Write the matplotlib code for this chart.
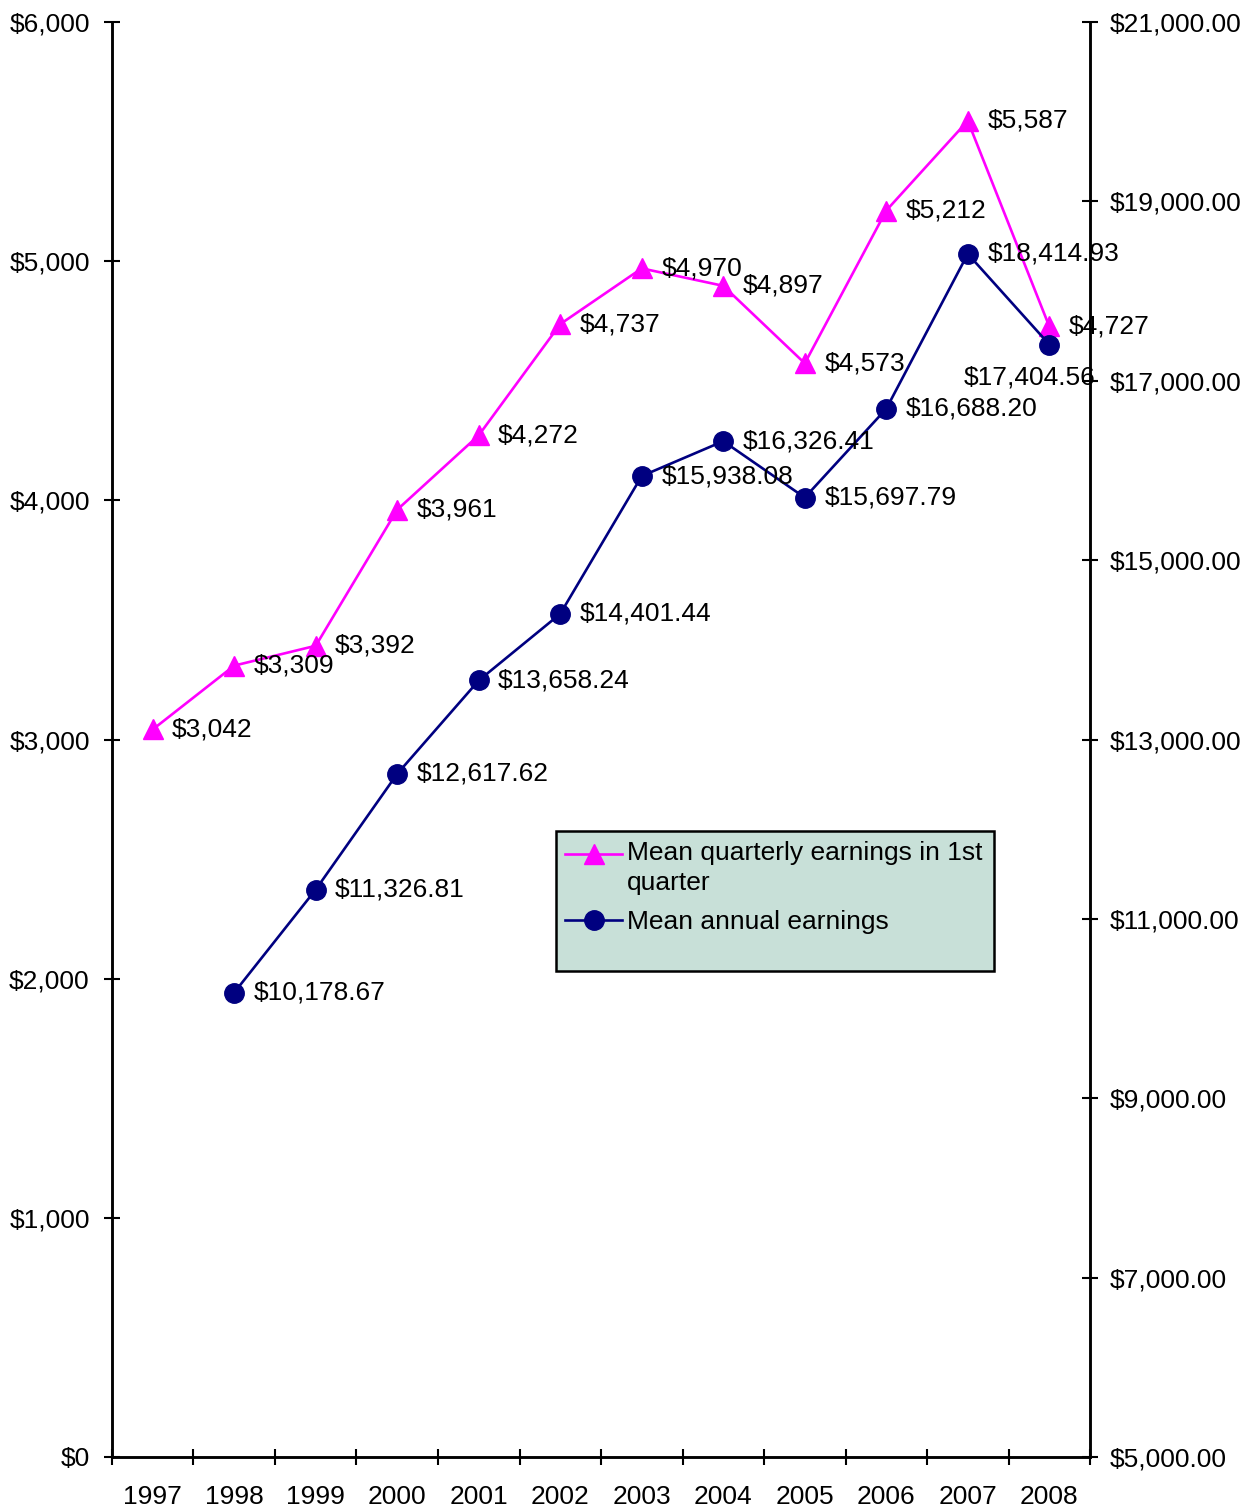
import numpy as np
import matplotlib
matplotlib.use("Agg")
import matplotlib.pyplot as plt
import matplotlib.patches as mpatches
from matplotlib.legend_handler import HandlerLine2D
from matplotlib.ticker import FuncFormatter, FixedLocator

plt.rcParams["font.family"] = ["Liberation Sans", "DejaVu Sans"]

# ---- data ----
years = ["1997", "1998", "1999", "2000", "2001", "2002",
         "2003", "2004", "2005", "2006", "2007", "2008"]
quarterly = [3042, 3309, 3392, 3961, 4272, 4737, 4970, 4897, 4573, 5212, 5587, 4727]
annual = [np.nan, 10178.67, 11326.81, 12617.62, 13658.24, 14401.44,
          15938.08, 16326.41, 15697.79, 16688.20, 18414.93, 17404.56]

label_q = "Mean quarterly earnings in 1st\nquarter"
label_a = "Mean annual earnings"

fontsize = 19
MAGENTA = "#FF00FF"
NAVY = "#000080"
LEGEND_BG = "#C8E0D8"


class TopLineHandler(HandlerLine2D):
    """legend handle aligned with the first line of a two-line label"""
    def __init__(self, dy, **kw):
        super().__init__(**kw)
        self.dy = dy

    def create_artists(self, legend, orig_handle, xdescent, ydescent,
                       width, height, fontsize, trans):
        return super().create_artists(legend, orig_handle, xdescent,
                                      ydescent - self.dy, width, height,
                                      fontsize, trans)


fig = plt.figure(figsize=(12.58, 15.10), dpi=100)
ax = fig.add_axes([0.0890, 0.0351, 0.8665 - 0.0890, 0.9854 - 0.0351])
ax2 = ax.twinx()

x = np.arange(len(years))

ln1, = ax.plot(x, quarterly, color=MAGENTA, lw=1.9, marker="^", markersize=14,
               markerfacecolor=MAGENTA, markeredgecolor=MAGENTA, zorder=3)
ln2, = ax2.plot(x, annual, color=NAVY, lw=1.9, marker="o", markersize=14,
                markerfacecolor=NAVY, markeredgecolor=NAVY, zorder=3)

# data labels
for xi, v in zip(x, quarterly):
    ax.annotate(f"${v:,.0f}", (xi, v), xytext=(14, 0), textcoords="offset points",
                va="center", ha="left", fontsize=fontsize)
for xi, v in zip(x, annual):
    if np.isnan(v):
        continue
    if xi == len(years) - 1:
        ax2.annotate(f"${v:,.2f}", (xi, v), xytext=(-14, -24), textcoords="offset points",
                     va="center", ha="center", fontsize=fontsize)
    else:
        ax2.annotate(f"${v:,.2f}", (xi, v), xytext=(14, 0), textcoords="offset points",
                     va="center", ha="left", fontsize=fontsize)

# axes limits
ax.set_xlim(-0.5, len(years) - 0.5)
ax.set_ylim(0, 6000)
ax2.set_ylim(5000, 21000)
ax.set_yticks(np.arange(0, 6001, 1000))
ax2.set_yticks(np.arange(5000, 21001, 2000))
ax.yaxis.set_major_formatter(FuncFormatter(lambda v, p: f"${v:,.0f}"))
ax2.yaxis.set_major_formatter(FuncFormatter(lambda v, p: f"${v:,.2f}"))

# x: labels at centers, tick marks at boundaries
ax.set_xticks(x)
ax.set_xticklabels(years)
ax.xaxis.set_minor_locator(FixedLocator(np.arange(-0.5, len(years) + 0.5, 1.0)))
ax.tick_params(axis="x", which="major", length=0, pad=20, labelsize=fontsize)
ax.tick_params(axis="x", which="minor", direction="inout", length=12, width=1.5)
ax.tick_params(axis="y", direction="inout", length=12, width=1.5, pad=10,
               labelsize=fontsize)
ax2.tick_params(axis="y", direction="inout", length=12, width=1.5, pad=8,
                labelsize=fontsize)

for a in (ax, ax2):
    a.spines["top"].set_visible(False)
    for s in ("left", "right", "bottom"):
        a.spines[s].set_linewidth(1.8)

# legend box (drawn as a rectangle, legend text placed at its top)
box_x0, box_y0, box_w, box_h = 0.454, 0.339, 0.448, 0.097
rect = mpatches.Rectangle((box_x0, box_y0), box_w, box_h, transform=ax2.transAxes,
                          facecolor=LEGEND_BG, edgecolor="black", linewidth=1.8,
                          zorder=4)
ax2.add_patch(rect)
leg = ax2.legend([ln1, ln2], [label_q, label_a], loc="upper left",
                 bbox_to_anchor=(box_x0, box_y0 + box_h), bbox_transform=ax2.transAxes,
                 fontsize=fontsize, frameon=False, borderaxespad=0.0,
                 handlelength=2.15, handletextpad=0.2, borderpad=0.35,
                 labelspacing=0.55, handler_map={ln1: TopLineHandler(dy=21)})
for t in leg.get_texts():
    t.set_linespacing(1.35)
leg.set_zorder(5)

fig.savefig("out.png", dpi=100)
